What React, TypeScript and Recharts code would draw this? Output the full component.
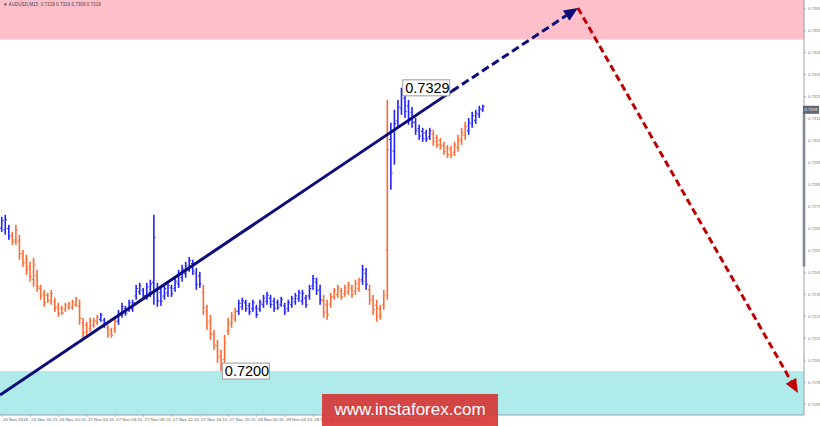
import { ComposedChart, Bar, XAxis, YAxis, ReferenceArea, ReferenceLine, ReferenceDot } from 'recharts';

// AUDUSD M15, resampled to half-hour bars (x = hours since 26 Nov 12:15)
const highs = [
  0.72703, 0.72712, 0.72666, 0.72634, 0.72666, 0.72621, 0.72552, 0.7253, 0.72498, 0.72516,
  0.72461, 0.72393, 0.7237, 0.72356, 0.7237, 0.72334, 0.72311, 0.72297, 0.72311, 0.72316,
  0.72325, 0.72338, 0.72325, 0.72243, 0.72224, 0.72243, 0.72243, 0.72256, 0.72265, 0.72243,
  0.72211, 0.72197, 0.72243, 0.72279, 0.72311, 0.72297, 0.72325, 0.72325, 0.72393, 0.72402,
  0.72379, 0.72402, 0.72416, 0.72712, 0.72402, 0.72379, 0.72393, 0.72407, 0.72393, 0.72425,
  0.72461, 0.72484, 0.72498, 0.7252, 0.72507, 0.7247, 0.72452, 0.72393, 0.72302, 0.72256,
  0.72188, 0.72142, 0.72097, 0.72165, 0.72243, 0.7227, 0.72288, 0.72325, 0.72334, 0.72325,
  0.72311, 0.72325, 0.72302, 0.72325, 0.72347, 0.72361, 0.72347, 0.72334, 0.72325, 0.72338,
  0.72311, 0.72325, 0.72343, 0.72356, 0.7237, 0.7237, 0.72347, 0.72393, 0.72438, 0.72425,
  0.72393, 0.72347, 0.72325, 0.72356, 0.72379, 0.72393, 0.72379, 0.72393, 0.72407, 0.72393,
  0.72416, 0.72425, 0.72484, 0.7247, 0.72393, 0.72347, 0.72325, 0.72302, 0.7237, 0.73235,
  0.73131, 0.7319, 0.73235, 0.7329, 0.73272, 0.73235, 0.73203, 0.73153, 0.73122, 0.73108,
  0.73099, 0.73108, 0.73099, 0.73076, 0.73062, 0.73044, 0.7303, 0.73026, 0.73044, 0.73076,
  0.73108, 0.73135, 0.73153, 0.73181, 0.7319, 0.73208, 0.73213,
];
const lows = [
  0.72634, 0.72621, 0.72598, 0.72575, 0.72575, 0.72507, 0.72475, 0.72438, 0.72407, 0.72384,
  0.72361, 0.72325, 0.72293, 0.72311, 0.72302, 0.7227, 0.72247, 0.72256, 0.7227, 0.72279,
  0.72279, 0.72293, 0.72211, 0.72152, 0.72165, 0.72179, 0.72197, 0.72211, 0.72224, 0.72197,
  0.72152, 0.72152, 0.72174, 0.72211, 0.72243, 0.72252, 0.7227, 0.7227, 0.72325, 0.72347,
  0.72334, 0.72325, 0.72338, 0.72302, 0.72293, 0.72297, 0.72325, 0.72338, 0.72338, 0.72361,
  0.72379, 0.72407, 0.72425, 0.72452, 0.72438, 0.7237, 0.72379, 0.72256, 0.72188, 0.72142,
  0.72097, 0.72038, 0.72, 0.72015, 0.72165, 0.72197, 0.72224, 0.72256, 0.72279, 0.7227,
  0.72256, 0.7227, 0.72243, 0.7227, 0.72288, 0.72302, 0.72288, 0.7227, 0.72279, 0.72293,
  0.72256, 0.7227, 0.72288, 0.72302, 0.72316, 0.72302, 0.72288, 0.72325, 0.7237, 0.72347,
  0.72302, 0.72243, 0.72234, 0.72288, 0.72325, 0.72334, 0.72325, 0.72338, 0.72347, 0.72334,
  0.72347, 0.72361, 0.72393, 0.7237, 0.72302, 0.72256, 0.72224, 0.72234, 0.72279, 0.72325,
  0.72826, 0.7294, 0.73108, 0.73167, 0.73153, 0.73122, 0.73108, 0.73076, 0.73053, 0.73044,
  0.73044, 0.73053, 0.73026, 0.73017, 0.73008, 0.72985, 0.72971, 0.72971, 0.7298, 0.72999,
  0.7303, 0.73053, 0.73076, 0.73108, 0.73126, 0.73153, 0.73181,
];
// first bar of each wave; waves alternate blue / orange
const waveStarts = [0, 3, 28, 30, 33, 57, 67, 91, 102, 104, 110, 122, 132];

const timeLabels = [
  '26 Nov 2018', '26 Nov 16:15', '26 Nov 20:15', '27 Nov 00:15', '27 Nov 04:15', '27 Nov 08:15',
  '27 Nov 12:15', '27 Nov 16:15', '27 Nov 20:15', '28 Nov 00:15', '28 Nov 04:15', '28 Nov 08:15',
  '28 Nov 12:15', '28 Nov 16:15', '28 Nov 20:15', '29 Nov 00:15', '29 Nov 04:15',
];
const priceTicks = [
  0.7365, 0.7355, 0.7345, 0.7335, 0.7325, 0.7315, 0.7305, 0.7295, 0.7285, 0.7275,
  0.7265, 0.7255, 0.7245, 0.7235, 0.7225, 0.7215, 0.7205, 0.7195, 0.7185,
];
const lastPrice = 0.7319;
const waveHigh = { t: 56.5, p: 0.7329 };
const waveLow = { t: 31, p: 0.72 };
const targetZone = [0.7351, 0.7369];
const supportZone = [0.718, 0.72];
const trendStart = { t: -0.28, p: 0.71891 };
const trendBreak = { t: 63.6, p: 0.73275 };
const trendTip = { t: 81.4, p: 0.73654 };
const forecastTip = { t: 112.5, p: 0.719 };
const rangeBar = [0.73181, 0.72476];

const X_MIN = -0.283;
const X_MAX = 113.36;
const BLUE = '#2323ff';
const ORANGE = '#ff6a33';
const FONT = 'Arial, "Liberation Sans", sans-serif';

const data = highs.map((h, i) => ({ t: i * 0.5, range: [lows[i], h] }));

function waveColor(i: number) {
  let k = 0;
  waveStarts.forEach((s, j) => { if (i >= s) k = j; });
  return k % 2 === 0 ? BLUE : ORANGE;
}

// vertical high-low stroke with small open/close nubs, like the terminal's bar chart
function OhlcBar(props: any) {
  const { x, y, width, height, index } = props;
  const c = waveColor(index);
  const cx = x + width / 2;
  const h = Math.max(height, 1);
  const prevHi = index > 0 ? highs[index - 1] : highs[0];
  const up = highs[index] >= prevHi;
  const openY = up ? y + h * 0.75 : y + h * 0.25;
  const closeY = up ? y + h * 0.25 : y + h * 0.75;
  return (
    <g>
      <rect x={cx - 0.8} y={y} width={1.6} height={h} fill={c} />
      <rect x={cx - 1.8} y={openY - 0.5} width={1.2} height={1} fill={c} />
      <rect x={cx + 0.6} y={closeY - 0.5} width={1.2} height={1} fill={c} />
    </g>
  );
}

function arrow(color: string, dash: string | undefined, head: boolean) {
  return (props: any) => {
    const { x1, y1, x2, y2 } = props;
    const len = Math.hypot(x2 - x1, y2 - y1);
    const ux = (x2 - x1) / len;
    const uy = (y2 - y1) / len;
    const hl = head ? 14 : 0;
    const bx = x2 - ux * hl;
    const by = y2 - uy * hl;
    return (
      <g>
        <line x1={x1} y1={y1} x2={bx} y2={by} stroke={color} strokeWidth={3} strokeDasharray={dash} />
        {head && (
          <polygon
            points={`${x2},${y2} ${bx - uy * 6},${by + ux * 6} ${bx + uy * 6},${by - ux * 6}`}
            fill={color}
          />
        )}
      </g>
    );
  };
}

function priceBox(text: string) {
  return (props: any) => {
    const { cx, cy } = props;
    return (
      <g>
        <rect x={cx + 1} y={cy - 8} width={47} height={16} fill="#fff" stroke="#999" strokeWidth={1} />
        <text x={cx + 3.5} y={cy + 5} fontSize={14.5} fontFamily={FONT} fill="#000">{text}</text>
      </g>
    );
  };
}

function lastPriceTag(props: any) {
  const { cx, cy } = props;
  return (
    <g>
      <rect x={cx - 1} y={cy - 4} width={16} height={8} fill="#5d6574" />
      <text x={cx + 0.5} y={cy + 1.6} fontSize={4.2} fontFamily={FONT} fill="#fff">{lastPrice.toFixed(4)}</text>
    </g>
  );
}

function TimeTick(props: any) {
  const { x, y, payload } = props;
  return (
    <g>
      <line x1={x} y1={y} x2={x} y2={y + 2} stroke="#888" strokeWidth={0.5} />
      <text x={x + 1} y={y + 5.5} fontSize={4.4} fontFamily={FONT} fill="#666">{timeLabels[Math.round(payload.value / 4)]}</text>
    </g>
  );
}

function PriceTick(props: any) {
  const { x, y, payload } = props;
  return (
    <text x={x + 0.5} y={y + 1.5} fontSize={4.2} fontFamily={FONT} fill="#777">{payload.value.toFixed(4)}</text>
  );
}

export default function App() {
  return (
    <div style={{ position: 'relative', width: 820, height: 426, background: '#fff', overflow: 'hidden' }}>
      <style>{'body{margin:0}'}</style>
      <ComposedChart width={820} height={426} data={data} margin={{ top: 0, right: 0, bottom: 0, left: 0 }}>
        <ReferenceArea y1={targetZone[0]} y2={targetZone[1]} fill="#ffc0cb" fillOpacity={1} stroke="none" ifOverflow="hidden" />
        <ReferenceArea y1={supportZone[0]} y2={supportZone[1]} fill="#b0ebec" fillOpacity={1} stroke="none" ifOverflow="hidden" />
        <XAxis
          type="number"
          dataKey="t"
          domain={[X_MIN, X_MAX]}
          allowDataOverflow
          ticks={timeLabels.map((_, k) => k * 4)}
          tick={<TimeTick />}
          tickLine={false}
          tickSize={0}
          tickMargin={0}
          axisLine={{ stroke: '#9aa0a8' }}
          height={11}
          interval={0}
        />
        <YAxis
          orientation="right"
          domain={[0.718, 0.7369]}
          allowDataOverflow
          ticks={priceTicks}
          tick={<PriceTick />}
          tickLine={{ stroke: '#999' }}
          tickSize={1.5}
          axisLine={{ stroke: '#9aa0a8' }}
          width={16}
          interval={0}
        />
        <Bar dataKey="range" barSize={3} shape={<OhlcBar />} isAnimationActive={false} />
        <ReferenceLine
          segment={[{ x: X_MAX, y: rangeBar[0] }, { x: X_MAX, y: rangeBar[1] }]}
          stroke="#6d7585"
          strokeWidth={2.5}
          ifOverflow="visible"
        />
        <ReferenceLine
          segment={[{ x: trendStart.t, y: trendStart.p }, { x: trendBreak.t, y: trendBreak.p }]}
          shape={arrow('#0b0b7a', undefined, false)}
          ifOverflow="visible"
        />
        <ReferenceLine
          segment={[{ x: trendBreak.t, y: trendBreak.p }, { x: trendTip.t, y: trendTip.p }]}
          shape={arrow('#0b0b7a', '8 4', true)}
          ifOverflow="visible"
        />
        <ReferenceLine
          segment={[{ x: trendTip.t, y: trendTip.p }, { x: forecastTip.t, y: forecastTip.p }]}
          shape={arrow('#c00000', '7 4', true)}
          ifOverflow="visible"
        />
        <ReferenceDot x={waveHigh.t} y={waveHigh.p} shape={priceBox(waveHigh.p.toFixed(4))} ifOverflow="visible" />
        <ReferenceDot x={waveLow.t} y={waveLow.p} shape={priceBox(waveLow.p.toFixed(4))} ifOverflow="visible" />
        <ReferenceDot x={X_MAX} y={lastPrice} shape={lastPriceTag} ifOverflow="visible" />
      </ComposedChart>
      <div style={{ position: 'absolute', left: 3, top: 2, fontSize: 4.6, fontFamily: FONT, color: '#444', whiteSpace: 'pre' }}>
        {'▼ AUDUSD,M15  0.7319 0.7319 0.7308 0.7319'}
      </div>
      <div
        style={{
          position: 'absolute', left: 322, top: 394, width: 176, height: 32,
          background: 'rgba(214,52,52,0.9)', color: '#fff', fontFamily: FONT, fontSize: 17,
          display: 'flex', alignItems: 'center', justifyContent: 'center',
        }}
      >
        www.instaforex.com
      </div>
    </div>
  );
}
